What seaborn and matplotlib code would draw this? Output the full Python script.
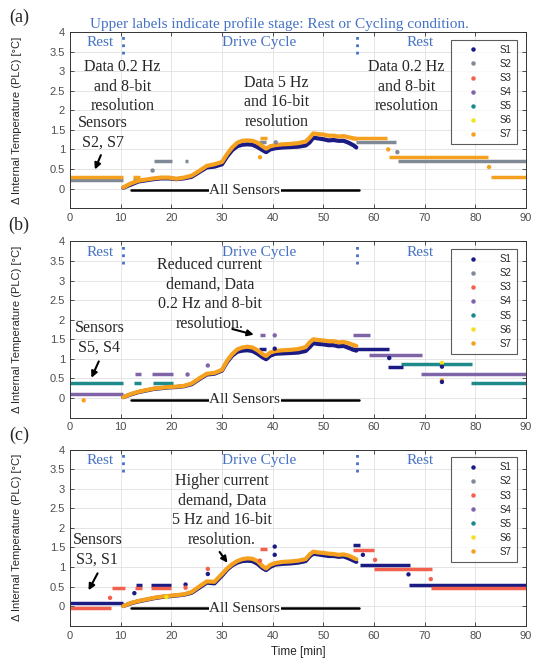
import pandas as pd
import matplotlib.pyplot as plt
from matplotlib.lines import Line2D
from matplotlib.ticker import FormatStrFormatter
import seaborn as sns

SENSORS = ['S1', 'S2', 'S3', 'S4', 'S5', 'S6', 'S7']
COLORS = {'S1': '#1b1b84', 'S2': '#808a96', 'S3': '#f4604e', 'S4': '#8064a8',
          'S5': '#1f8a8c', 'S6': '#f2e41c', 'S7': '#f5a11f'}
BLUE = '#4472c4'

# drive cycle (5 Hz) curves, shared time base [min]
DRIVE_T = [10.5, 12, 13.5, 15, 16.5, 18, 19.5, 21, 22.5, 24, 25.5, 27, 28.5, 30, 31, 32,
           33, 34, 35, 36, 37, 38, 38.7, 39.5, 40.5, 42, 43.5, 45, 46.5, 47.3, 48, 49,
           50, 51, 52, 53, 54, 55, 56, 56.5]

A_S7 = [0.03, 0.13, 0.2, 0.23, 0.26, 0.28, 0.28, 0.25, 0.28, 0.33, 0.45, 0.58, 0.62, 0.68,
        0.88, 1.05, 1.17, 1.22, 1.23, 1.22, 1.17, 1.08, 1.02, 1.08, 1.11, 1.13, 1.14, 1.16,
        1.2, 1.3, 1.41, 1.39, 1.38, 1.35, 1.35, 1.33, 1.34, 1.31, 1.28, 1.27]
A_S1 = [0.02, 0.1, 0.18, 0.21, 0.24, 0.26, 0.26, 0.24, 0.26, 0.3, 0.42, 0.54, 0.56, 0.62,
        0.82, 0.98, 1.08, 1.12, 1.13, 1.12, 1.06, 0.98, 0.93, 1.0, 1.03, 1.05, 1.06, 1.07,
        1.1, 1.18, 1.3, 1.28, 1.26, 1.23, 1.24, 1.22, 1.22, 1.17, 1.1, 1.05]

B_S7 = [0.02, 0.1, 0.16, 0.2, 0.24, 0.26, 0.28, 0.29, 0.31, 0.37, 0.5, 0.62, 0.64, 0.72,
        0.95, 1.12, 1.24, 1.29, 1.31, 1.29, 1.22, 1.12, 1.07, 1.16, 1.2, 1.22, 1.23, 1.25,
        1.3, 1.42, 1.5, 1.48, 1.47, 1.45, 1.45, 1.42, 1.43, 1.4, 1.35, 1.33]
B_S1 = [0.02, 0.09, 0.15, 0.19, 0.23, 0.25, 0.27, 0.28, 0.3, 0.35, 0.48, 0.6, 0.62, 0.7,
        0.92, 1.08, 1.18, 1.21, 1.22, 1.2, 1.13, 1.04, 0.99, 1.08, 1.13, 1.14, 1.15, 1.16,
        1.2, 1.3, 1.4, 1.38, 1.37, 1.35, 1.35, 1.32, 1.33, 1.28, 1.23, 1.21]

C_S7 = [0.0, 0.08, 0.13, 0.17, 0.21, 0.24, 0.26, 0.28, 0.3, 0.36, 0.5, 0.63, 0.62, 0.82,
        0.96, 1.07, 1.15, 1.2, 1.22, 1.21, 1.15, 1.02, 0.96, 1.05, 1.1, 1.13, 1.14, 1.16,
        1.2, 1.32, 1.39, 1.37, 1.36, 1.34, 1.33, 1.31, 1.32, 1.29, 1.23, 1.2]
C_S1 = [0.0, 0.07, 0.12, 0.16, 0.2, 0.23, 0.25, 0.27, 0.29, 0.34, 0.47, 0.6, 0.58, 0.78,
        0.93, 1.04, 1.11, 1.15, 1.16, 1.15, 1.08, 0.97, 0.92, 1.0, 1.06, 1.08, 1.09, 1.11,
        1.15, 1.27, 1.34, 1.32, 1.3, 1.28, 1.28, 1.26, 1.27, 1.22, 1.16, 1.13]

# 0.2 Hz / 8-bit runs: (sensor, start, end, value)
A_STEPS = [('S2', 0, 10.4, 0.22), ('S7', 0, 10.4, 0.3),
           ('S2', 12.4, 13.9, 0.22), ('S7', 12.4, 13.9, 0.3),
           ('S2', 16.6, 20.2, 0.7), ('S2', 22.6, 23.2, 0.7),
           ('S2', 37.2, 38.6, 1.18), ('S7', 37.4, 38.8, 1.3),
           ('S2', 56.5, 64.3, 1.18), ('S7', 55.5, 62.6, 1.3),
           ('S7', 63.0, 82.5, 0.8), ('S2', 64.8, 90, 0.7), ('S7', 83.0, 90, 0.3)]
B_STEPS = [('S5', 0, 10.5, 0.37), ('S4', 0, 10.5, 0.11),
           ('S4', 12.8, 14.1, 0.6), ('S5', 12.6, 14.1, 0.37),
           ('S4', 16.2, 20.4, 0.6), ('S5', 16.4, 20.3, 0.37),
           ('S4', 37.4, 38.5, 1.6), ('S1', 37.3, 38.6, 1.26),
           ('S4', 55.8, 59.3, 1.6), ('S1', 55.4, 63.0, 1.26), ('S4', 59.1, 69.4, 1.1),
           ('S1', 62.8, 65.7, 0.78), ('S5', 65.4, 79.4, 0.87), ('S4', 69.2, 90, 0.62),
           ('S5', 79.2, 90, 0.37)]
C_STEPS = [('S1', 0, 10.5, 0.07), ('S3', 0, 8.0, -0.05), ('S3', 8.2, 10.8, 0.47),
           ('S1', 13.0, 14.2, 0.55), ('S3', 12.9, 14.2, 0.47),
           ('S1', 16.0, 19.9, 0.55), ('S3', 16.0, 20.0, 0.47),
           ('S3', 37.4, 38.8, 1.45), ('S1', 55.9, 57.3, 1.55), ('S3', 55.9, 60.0, 1.44),
           ('S1', 57.3, 67.0, 1.05), ('S3', 60.0, 71.4, 0.96), ('S1', 66.9, 90, 0.55),
           ('S3', 71.3, 90, 0.46)]

# single samples: (sensor, time, value)
A_DOTS = [('S2', 16.3, 0.46), ('S2', 40.6, 1.18), ('S7', 37.5, 0.8), ('S7', 62.8, 1.0),
          ('S2', 64.6, 0.93), ('S7', 82.7, 0.55)]
B_DOTS = [('S7', 2.7, -0.06), ('S4', 23.2, 0.6), ('S4', 27.2, 0.83), ('S4', 40.4, 1.6),
          ('S1', 40.4, 1.26), ('S1', 63.0, 1.02), ('S6', 73.4, 0.9), ('S1', 73.4, 0.8),
          ('S7', 73.4, 0.45), ('S1', 73.4, 0.41)]
C_DOTS = [('S3', 7.9, 0.21), ('S1', 12.7, 0.33), ('S1', 22.8, 0.55), ('S3', 22.8, 0.47),
          ('S6', 19.0, 0.23), ('S3', 27.2, 0.95), ('S1', 27.2, 0.82), ('S3', 37.5, 1.16),
          ('S1', 40.4, 1.52), ('S1', 40.4, 1.31), ('S1', 57.8, 1.31), ('S3', 60.2, 1.18),
          ('S1', 66.8, 0.81), ('S3', 71.2, 0.69)]

STAGE_BOUNDS = [10.5, 56.6]
STAGES = [('Rest', 6.0), ('Drive Cycle', 37.4), ('Rest', 69.0)]

# text blocks: (text, x, y)
A_NOTES = [('Data 0.2 Hz\nand 8-bit\nresolution', 10.4, 2.6),
           ('Data 5 Hz\nand 16-bit\nresolution', 40.7, 2.2),
           ('Data 0.2 Hz\nand 8-bit\nresolution', 66.4, 2.6),
           ('Sensors\nS2, S7', 6.5, 1.42)]
B_NOTES = [('Reduced current\ndemand, Data\n0.2 Hz and 8-bit\nresolution.', 27.6, 2.64),
           ('Sensors\nS5, S4', 5.8, 1.54)]
C_NOTES = [('Higher current\ndemand, Data\n5 Hz and 16-bit\nresolution.', 30.0, 2.45),
           ('Sensors\nS3, S1', 5.4, 1.43)]
# arrows: (tail x, tail y, head x, head y)
A_ARROWS = [(6.3, 0.92, 4.7, 0.42)]
B_ARROWS = [(5.9, 1.0, 4.0, 0.45), (31.5, 1.78, 36.8, 1.6)]
C_ARROWS = [(5.7, 0.9, 3.4, 0.34), (29.2, 1.44, 31.4, 1.05)]

sns.set_style('ticks')
plt.rcParams['font.family'] = ['Liberation Sans', 'DejaVu Sans']
SERIF = ['Liberation Serif', 'DejaVu Serif']


def draw_panel(ax, s1_vals, s7_vals, steps, dots, notes, arrows):
    step_df = pd.DataFrame([(s, i, t, v) for i, (s, t0, t1, v) in enumerate(steps) for t in (t0, t1)],
                           columns=['sensor', 'seg', 't', 'v'])
    sns.lineplot(data=step_df, x='t', y='v', hue='sensor', units='seg', estimator=None,
                 palette=COLORS, lw=2.5, legend=False, sort=False, ax=ax, solid_capstyle='butt')

    n = len(DRIVE_T)
    curve = pd.DataFrame({'t': DRIVE_T * 2, 'v': s1_vals + s7_vals,
                          'sensor': ['S1'] * n + ['S7'] * n})
    sns.lineplot(data=curve, x='t', y='v', hue='sensor', hue_order=['S1', 'S7'],
                 palette=COLORS, lw=3.0, legend=False, sort=False, ax=ax)

    dot_df = pd.DataFrame(dots, columns=['sensor', 't', 'v'])
    sns.scatterplot(data=dot_df, x='t', y='v', hue='sensor', palette=COLORS, s=10,
                    linewidth=0, legend=False, ax=ax, zorder=4)

    # stage labels
    for label, x in STAGES:
        ax.text(x, 3.72, label, color=BLUE, fontsize=11, family=SERIF, ha='center', va='center')
    for x in STAGE_BOUNDS:
        ax.plot([x, x], [3.43, 3.95], color=BLUE, ls=':', lw=2)

    for text, x, y in notes:
        ax.text(x, y, text, fontsize=11.5, family=SERIF, ha='center', va='center', linespacing=1.3)
    for x0, y0, x1, y1 in arrows:
        ax.annotate('', xy=(x1, y1), xytext=(x0, y0),
                    arrowprops=dict(arrowstyle='-|>', color='k', lw=1.5, mutation_scale=9))

    ax.plot([12, 57], [-0.05, -0.05], color='k', lw=1.8)
    ax.text(34.5, -0.05, 'All Sensors', fontsize=11, family=SERIF, ha='center', va='center',
            bbox=dict(facecolor='white', edgecolor='none', pad=0.5))

    ax.set_xlim(0, 90)
    ax.set_ylim(-0.5, 4)
    ax.set_xticks(range(0, 91, 10))
    ax.set_yticks([0, 0.5, 1, 1.5, 2, 2.5, 3, 3.5, 4])
    ax.yaxis.set_major_formatter(FormatStrFormatter('%g'))
    ax.grid(True, color='#e1e1e1', lw=0.6)
    ax.set_axisbelow(True)
    ax.tick_params(direction='in', top=True, right=True, length=3, width=0.6,
                   labelsize=8, labelcolor='#4d4d4d', color='#333333')
    for sp in ax.spines.values():
        sp.set_color('#333333')
        sp.set_linewidth(0.7)
    ax.set_xlabel('')
    ax.set_ylabel('\u0394 Internal Temperature (PLC) [\u00b0C]', fontsize=8, color='#262626')
    ax.yaxis.set_label_coords(-0.105, 0.5)

    handles = [Line2D([], [], marker='o', ls='', ms=2.2, color=COLORS[s]) for s in SENSORS]
    leg = ax.legend(handles, SENSORS, loc='upper right', bbox_to_anchor=(0.98, 0.955),
                    fontsize=7, frameon=True, fancybox=False, edgecolor='#333333',
                    handlelength=3.5, handletextpad=1.0, borderpad=0.5, labelspacing=0.42,
                    borderaxespad=0)
    leg.get_frame().set_linewidth(0.8)


fig = plt.figure(figsize=(5.34, 6.67), dpi=100)
ax_a = fig.add_axes([0.1311, 0.688, 0.854, 0.264])
ax_b = fig.add_axes([0.1311, 0.374, 0.854, 0.264])
ax_c = fig.add_axes([0.1311, 0.062, 0.854, 0.264])

draw_panel(ax_a, A_S1, A_S7, A_STEPS, A_DOTS, A_NOTES, A_ARROWS)
draw_panel(ax_b, B_S1, B_S7, B_STEPS, B_DOTS, B_NOTES, B_ARROWS)
draw_panel(ax_c, C_S1, C_S7, C_STEPS, C_DOTS, C_NOTES, C_ARROWS)

ax_a.text(41.3, 4.21, 'Upper labels indicate profile stage: Rest or Cycling condition.',
          color=BLUE, fontsize=11, family=SERIF, ha='center', va='center', clip_on=False)
ax_c.set_xlabel('Time [min]', fontsize=8.5, color='#262626', labelpad=4)

for label, y in [('(a)', 17), ('(b)', 225), ('(c)', 435)]:
    fig.text(19 / 534, 1 - y / 667, label, fontsize=13, family=SERIF, ha='center', va='center')

fig.savefig('out.png', dpi=100)
plt.close(fig)
